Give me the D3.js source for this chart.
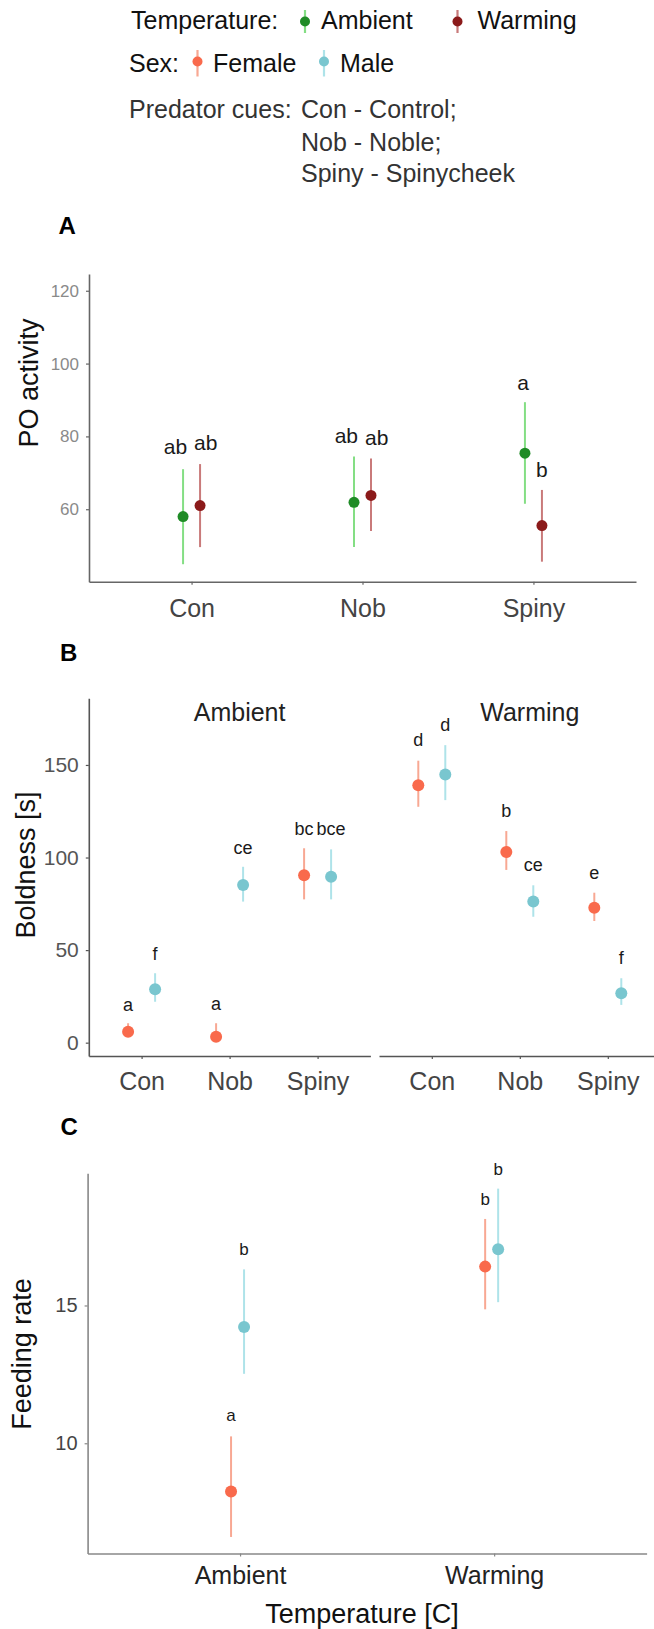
<!DOCTYPE html>
<html>
<head>
<meta charset="utf-8">
<script src="https://cdn.jsdelivr.net/npm/d3@7"></script>
<style>
  body { margin: 0; background: #fff; }
  text { font-family: "Liberation Sans", Arial, sans-serif; }
</style>
</head>
<body>
<script>
// categories
const cues = ['Con', 'Nob', 'Spiny'];
const temps = ['Ambient', 'Warming'];

// A: PO activity (mean, lower, upper, letter, letter height)
const poAmbient = [58.0, 61.9, 75.4];
const poAmbientLo = [44.9, 49.6, 61.5];
const poAmbientHi = [71.0, 74.5, 89.4];
const poWarming = [61.0, 63.8, 55.5];
const poWarmingLo = [49.6, 54.0, 45.6];
const poWarmingHi = [72.4, 73.9, 65.3];
const poAmbientLetters = ['ab', 'ab', 'a'];
const poWarmingLetters = ['ab', 'ab', 'b'];
const poAmbientLetterY = [77.2, 80.1, 94.9];
const poWarmingLetterY = [78.3, 79.7, 70.8];
const poTicks = [60, 80, 100, 120];

// B: Boldness by temperature panel and sex
const boldAmbFemale = [5.9, 3.2, 90.4];
const boldAmbFemaleLo = [3.2, 0.5, 77.4];
const boldAmbFemaleHi = [10.5, 10.5, 105.0];
const boldAmbMale = [28.8, 85.2, 89.6];
const boldAmbMaleLo = [22.1, 76.2, 77.4];
const boldAmbMaleHi = [37.5, 95.0, 104.4];
const boldWarmFemale = [139.1, 103.0, 72.9];
const boldWarmFemaleLo = [127.4, 93.3, 65.7];
const boldWarmFemaleHi = [152.3, 114.3, 81.0];
const boldWarmMale = [144.9, 76.2, 26.7];
const boldWarmMaleLo = [131.0, 68.0, 20.4];
const boldWarmMaleHi = [160.7, 85.0, 34.8];
const boldAmbFemaleLetters = ['a', 'a', 'bc'];
const boldAmbFemaleLetterY = [20.4, 20.9, 115.4];
const boldAmbMaleLetters = ['f', 'ce', 'bce'];
const boldAmbMaleLetterY = [48.3, 105.5, 115.4];
const boldWarmFemaleLetters = ['d', 'b', 'e'];
const boldWarmFemaleLetterY = [163.8, 125.3, 91.8];
const boldWarmMaleLetters = ['d', 'ce', 'f'];
const boldWarmMaleLetterY = [171.5, 96.3, 45.9];
const boldTicks = [0, 50, 100, 150];

// C: Feeding rate by temperature and sex
const feedFemale = [8.25, 16.41];
const feedFemaleLo = [6.6, 14.86];
const feedFemaleHi = [10.25, 18.14];
const feedMale = [14.22, 17.04];
const feedMaleLo = [12.52, 15.12];
const feedMaleHi = [16.31, 19.24];
const feedFemaleLetters = ['a', 'b'];
const feedFemaleLetterY = [11.04, 18.88];
const feedMaleLetters = ['b', 'b'];
const feedMaleLetterY = [17.06, 19.95];
const feedTicks = [10, 15];

const col = {
  ambient: '#1f8b26', ambientBar: '#84de84',
  warming: '#8b1a1a', warmingBar: '#c97a7a',
  female: '#f96a4c', femaleBar: '#f8a893',
  male: '#79c6cf', maleBar: '#aee3e9'
};

const svg = d3.select('body').append('svg')
  .attr('width', 654)
  .attr('height', 1629);

const pointrange = (g, x, y, lo, hi, pColor, bColor, r) => {
  g.append('line')
    .attr('x1', x).attr('x2', x)
    .attr('y1', lo).attr('y2', hi)
    .attr('stroke', bColor)
    .attr('stroke-width', 2);
  g.append('circle')
    .attr('cx', x).attr('cy', y)
    .attr('r', r)
    .attr('fill', pColor);
};

const letter = (g, x, y, txt, size, anchor) => {
  g.append('text')
    .attr('x', x).attr('y', y)
    .attr('dy', '0.35em')
    .attr('text-anchor', anchor || 'middle')
    .attr('font-size', size)
    .attr('fill', '#1a1a1a')
    .text(txt);
};

const styleAxis = (g, lineColor, textColor, size) => {
  g.select('.domain').attr('stroke', lineColor).attr('stroke-width', 1.6);
  g.selectAll('.tick line').attr('stroke', lineColor).attr('stroke-width', 1.2);
  g.selectAll('.tick text')
    .attr('fill', textColor)
    .attr('font-size', size)
    .attr('font-family', '"Liberation Sans", Arial, sans-serif');
};

const yTitle = (x, y, txt) => {
  svg.append('text')
    .attr('transform', `translate(${x},${y}) rotate(-90)`)
    .attr('dy', '0.35em')
    .attr('text-anchor', 'middle')
    .attr('font-size', 27)
    .attr('fill', '#111')
    .text(txt);
};

const panelTag = (x, y, txt) => {
  svg.append('text')
    .attr('x', x).attr('y', y)
    .attr('font-size', 24)
    .attr('font-weight', 'bold')
    .attr('fill', '#000')
    .text(txt);
};

// ---------- legend ----------
const legend = svg.append('g');
const legendKey = (x, cy, top, bottom, pColor, bColor) => {
  legend.append('line')
    .attr('x1', x).attr('x2', x)
    .attr('y1', top).attr('y2', bottom)
    .attr('stroke', bColor)
    .attr('stroke-width', 2.2);
  legend.append('circle')
    .attr('cx', x).attr('cy', cy)
    .attr('r', 5)
    .attr('fill', pColor);
};
const legendText = (x, y, txt, fill) => {
  legend.append('text')
    .attr('x', x).attr('y', y)
    .attr('font-size', 25)
    .attr('fill', fill || '#111')
    .text(txt);
};

legendText(131, 29, 'Temperature:');
legendKey(305, 21.5, 10, 33, col.ambient, col.ambientBar);
legendText(321, 29, temps[0]);
legendKey(457.5, 21.5, 10, 33, col.warming, col.warmingBar);
legendText(477.5, 29, temps[1]);

legendText(129, 72, 'Sex:');
legendKey(197.5, 61.5, 50, 76.5, col.female, col.femaleBar);
legendText(213, 72, 'Female');
legendKey(324, 61.5, 50, 76.5, col.male, col.maleBar);
legendText(340, 72, 'Male');

legendText(129, 118, 'Predator cues:', '#333');
legendText(301, 118, 'Con - Control;', '#333');
legendText(301, 150.5, 'Nob - Noble;', '#333');
legendText(301, 182, 'Spiny - Spinycheek', '#333');

// ---------- A: PO activity ----------
panelTag(58.5, 234, 'A');

const xA = d3.scalePoint().domain(cues).range([89, 636]).padding(0.6);
const yA = d3.scaleLinear().domain([40.1, 124.6]).range([581.7, 274]);

let axis = svg.append('g')
  .attr('transform', 'translate(89,0)')
  .call(d3.axisLeft(yA).tickValues(poTicks).tickSize(3).tickSizeOuter(0).tickPadding(7));
styleAxis(axis, '#666', '#8a8a8a', 17);

axis = svg.append('g')
  .attr('transform', 'translate(0,581.7)')
  .call(d3.axisBottom(xA).tickSize(3).tickSizeOuter(0));
styleAxis(axis, '#666', '#444', 25);
axis.selectAll('.tick text').attr('y', 26.6).attr('dy', '0.35em');

yTitle(28.5, 383, 'PO activity');

const gA = svg.append('g');
cues.forEach((c, i) => {
  const xa = xA(c) - 8.5;
  const xw = xA(c) + 8.5;
  pointrange(gA, xa, yA(poAmbient[i]), yA(poAmbientLo[i]), yA(poAmbientHi[i]), col.ambient, col.ambientBar, 5.5);
  pointrange(gA, xw, yA(poWarming[i]), yA(poWarmingLo[i]), yA(poWarmingHi[i]), col.warming, col.warmingBar, 5.5);
  letter(gA, xa + 4, yA(poAmbientLetterY[i]), poAmbientLetters[i], 21, 'end');
  letter(gA, xw - 6, yA(poWarmingLetterY[i]), poWarmingLetters[i], 21, 'start');
});

// ---------- B: Boldness ----------
panelTag(60, 661, 'B');

const yB = d3.scaleLinear().domain([-7.2, 186]).range([1056, 698.3]);
const xBL = d3.scalePoint().domain(cues).range([88.8, 370.4]).padding(0.6);
const xBR = d3.scalePoint().domain(cues).range([379, 660.6]).padding(0.6);

axis = svg.append('g')
  .attr('transform', 'translate(88.8,0)')
  .call(d3.axisLeft(yB).tickValues(boldTicks).tickSize(3).tickSizeOuter(0).tickPadding(7));
styleAxis(axis, '#555', '#555', 21);

[xBL, xBR].forEach(xs => {
  const g = svg.append('g')
    .attr('transform', 'translate(0,1056)')
    .call(d3.axisBottom(xs).tickSize(3).tickSizeOuter(0));
  styleAxis(g, '#555', '#444', 25);
  g.selectAll('.tick text').attr('y', 25.7).attr('dy', '0.35em');
});

yTitle(26, 865, 'Boldness [s]');

[[xBL, temps[0]], [xBR, temps[1]]].forEach(([xs, t]) => {
  const r = xs.range();
  svg.append('text')
    .attr('x', (r[0] + r[1]) / 2 + 10)
    .attr('y', 712.7)
    .attr('dy', '0.35em')
    .attr('text-anchor', 'middle')
    .attr('font-size', 25)
    .attr('fill', '#222')
    .text(t);
});

const gB = svg.append('g');
const boldSets = [
  [xBL, -13.5, boldAmbFemale, boldAmbFemaleLo, boldAmbFemaleHi, boldAmbFemaleLetters, boldAmbFemaleLetterY, col.female, col.femaleBar],
  [xBL, 13.5, boldAmbMale, boldAmbMaleLo, boldAmbMaleHi, boldAmbMaleLetters, boldAmbMaleLetterY, col.male, col.maleBar],
  [xBR, -13.5, boldWarmFemale, boldWarmFemaleLo, boldWarmFemaleHi, boldWarmFemaleLetters, boldWarmFemaleLetterY, col.female, col.femaleBar],
  [xBR, 13.5, boldWarmMale, boldWarmMaleLo, boldWarmMaleHi, boldWarmMaleLetters, boldWarmMaleLetterY, col.male, col.maleBar]
];
boldSets.forEach(([xs, dx, m, lo, hi, lab, labY, pc, bc]) => {
  cues.forEach((c, i) => {
    const x = xs(c) + dx;
    pointrange(gB, x, yB(m[i]), yB(lo[i]), yB(hi[i]), pc, bc, 6);
    letter(gB, x, yB(labY[i]), lab[i], 18);
  });
});

// ---------- C: Feeding rate ----------
panelTag(60.5, 1134.5, 'C');

const xC = d3.scalePoint().domain(temps).range([87.6, 646.6]).padding(0.6);
const yC = d3.scaleLinear().domain([6.0, 19.8]).range([1553.5, 1173.2]);

axis = svg.append('g')
  .attr('transform', 'translate(87.6,0)')
  .call(d3.axisLeft(yC).tickValues(feedTicks).tickSize(3).tickSizeOuter(0).tickPadding(7));
styleAxis(axis, '#888', '#444', 20);

axis = svg.append('g')
  .attr('transform', 'translate(0,1553.5)')
  .call(d3.axisBottom(xC).tickSize(3).tickSizeOuter(0));
styleAxis(axis, '#888', '#222', 25);
axis.selectAll('.tick text').attr('y', 21.7).attr('dy', '0.35em');

yTitle(21.5, 1354, 'Feeding rate');

svg.append('text')
  .attr('x', 362)
  .attr('y', 1613.3)
  .attr('dy', '0.35em')
  .attr('text-anchor', 'middle')
  .attr('font-size', 27)
  .attr('fill', '#111')
  .text('Temperature [C]');

const gC = svg.append('g');
temps.forEach((t, i) => {
  const xf = xC(t) - 9;
  const xm = xC(t) + 4;
  pointrange(gC, xf, yC(feedFemale[i]), yC(feedFemaleLo[i]), yC(feedFemaleHi[i]), col.female, col.femaleBar, 6);
  pointrange(gC, xm, yC(feedMale[i]), yC(feedMaleLo[i]), yC(feedMaleHi[i]), col.male, col.maleBar, 6);
  letter(gC, xf, yC(feedFemaleLetterY[i]), feedFemaleLetters[i], 17);
  letter(gC, xm, yC(feedMaleLetterY[i]), feedMaleLetters[i], 17);
});
</script>
</body>
</html>
